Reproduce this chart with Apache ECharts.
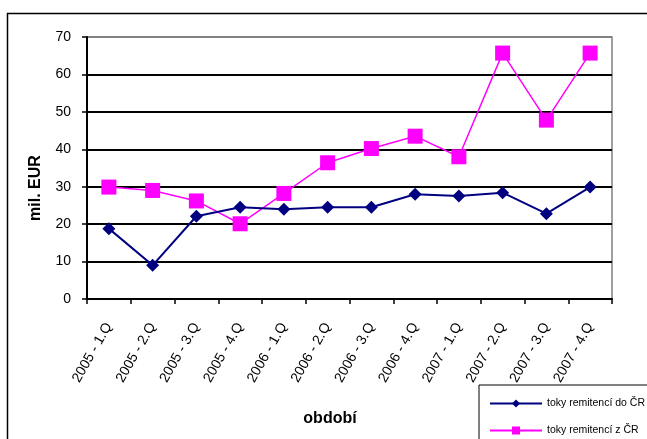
<!DOCTYPE html>
<html><head><meta charset="utf-8">
<script src="https://cdn.jsdelivr.net/npm/echarts@6/dist/echarts.min.js"></script>
<style>html,body{margin:0;padding:0;background:#fff}#c{width:647px;height:439px}</style>
</head><body><div id="c"></div>
<script>
const categories = ["2005 - 1.Q","2005 - 2.Q","2005 - 3.Q","2005 - 4.Q","2006 - 1.Q","2006 - 2.Q","2006 - 3.Q","2006 - 4.Q","2007 - 1.Q","2007 - 2.Q","2007 - 3.Q","2007 - 4.Q"];
const seriesNames = ["toky remitencí do ČR","toky remitencí z ČR"];
const inflows = [18.8, 9.0, 22.1, 24.5, 24.0, 24.5, 24.5, 28.0, 27.5, 28.4, 22.8, 29.9];
const outflows = [29.9, 29.0, 26.2, 20.1, 28.2, 36.4, 40.2, 43.5, 38.0, 65.7, 47.8, 65.7];
const yTicks = {min: 0, max: 70, interval: 10};

const gridColors = ['#000', '#000', '#000', '#000', '#000', '#000', '#000', '#808080'];

const chart = echarts.init(document.getElementById('c'));
chart.setOption({
  animation: false,
  backgroundColor: '#fff',
  textStyle: {fontFamily: 'Liberation Sans, Arial, sans-serif'},
  graphic: [{type: 'rect', shape: {x: 7.5, y: 13.5, width: 700, height: 500}, style: {fill: 'none', stroke: '#000', lineWidth: 1.5}, z: -1}],
  grid: {left: 87, top: 37, right: 35, bottom: 140, show: true, borderColor: '#808080', borderWidth: 1.5, backgroundColor: 'transparent'},
  legend: {
    orient: 'vertical', left: 479, top: 385, height: 120, width: 300,
    data: seriesNames,
    itemWidth: 52, itemHeight: 10, itemGap: 16,
    padding: [13, 12, 10, 10],
    borderColor: '#000', borderWidth: 1,
    textStyle: {fontSize: 10.5, color: '#000', fontFamily: 'Liberation Sans, Arial, sans-serif'}
  },
  xAxis: {
    type: 'category', data: categories, boundaryGap: true,
    name: 'období', nameLocation: 'middle', nameGap: 112,
    nameTextStyle: {fontSize: 16, fontWeight: 'bold', color: '#000', padding: [0, 39, 0, 0]},
    axisLine: {lineStyle: {color: '#000', width: 2}},
    axisTick: {show: true, length: 5, lineStyle: {color: '#000', width: 1.5}},
    axisLabel: {rotate: 60, fontSize: 14, color: '#000', margin: 25, interval: 0},
    splitLine: {show: false}
  },
  yAxis: {
    type: 'value', min: yTicks.min, max: yTicks.max, interval: yTicks.interval,
    name: 'mil. EUR', nameLocation: 'middle', nameGap: 43,
    nameTextStyle: {fontSize: 16, fontWeight: 'bold', color: '#000', padding: [0, 40, 0, 0]},
    axisLine: {show: true, lineStyle: {color: '#000', width: 2}},
    axisTick: {show: true, inside: false, length: 5, lineStyle: {color: '#000', width: 1.5}},
    axisLabel: {fontSize: 14, color: '#000', margin: 16},
    splitLine: {show: true, lineStyle: {color: gridColors, width: 2}}
  },
  series: [
    {name: seriesNames[0], type: 'line', data: inflows, symbol: 'diamond', symbolSize: 13,
     itemStyle: {color: '#000080'}, lineStyle: {color: '#000080', width: 2}, z: 3},
    {name: seriesNames[1], type: 'line', data: outflows, symbol: 'rect', symbolSize: 15,
     itemStyle: {color: '#FF00FF'}, lineStyle: {color: '#FF00FF', width: 1.5}, z: 2}
  ]
});
</script></body></html>
